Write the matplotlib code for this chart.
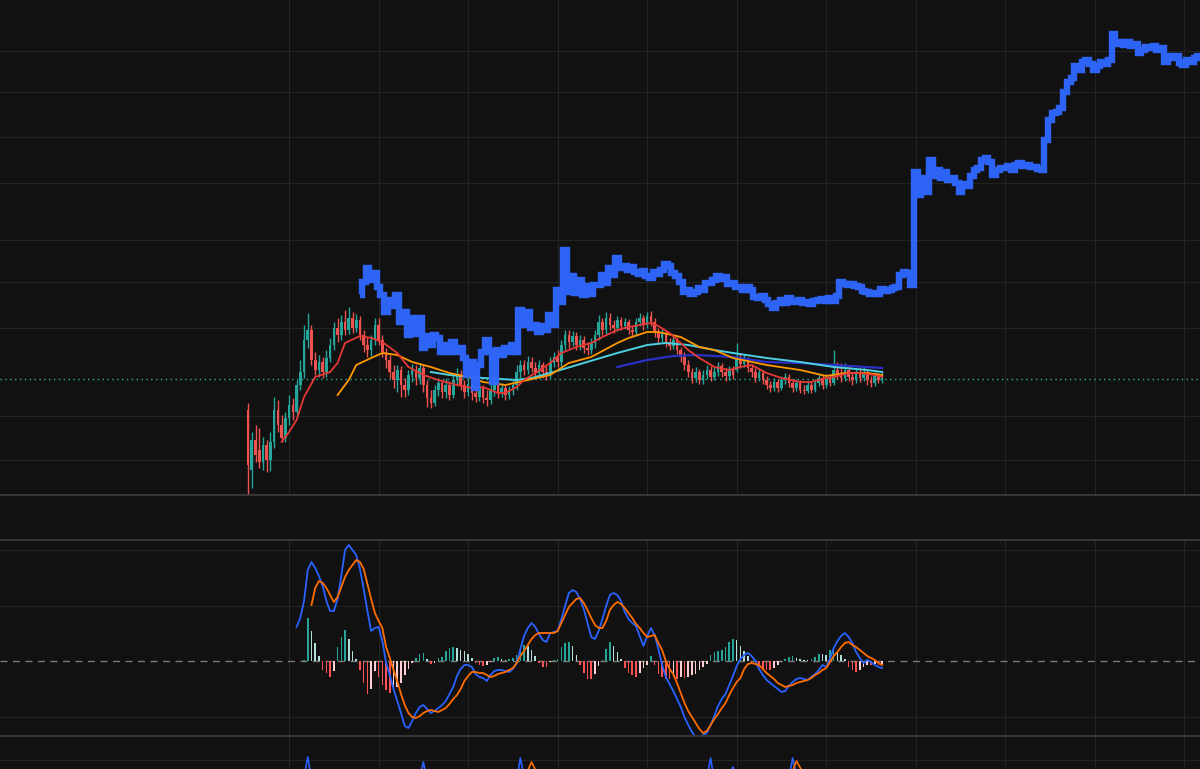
import matplotlib
matplotlib.use("Agg")
import matplotlib.pyplot as plt
from matplotlib.lines import Line2D
import numpy as np

# ---------------- data (bar index = time) ----------------
open_ = [85,25,55,45,33,50,35,53,85,70, 57,77,90,83,110,123,155,165,135,125,
         133,123,137,150,167,160,173,165,177,167, 175,160,150,145,155,170,155,143,135,123,
         115,125,110,105,120,125,117,127,110,97, 92,105,112,103,110,100,115,121,110,103,
         111,102,98,107,97,95,105,112,103,107, 100,105,110,123,130,125,133,127,122,130,
         123,120,132,138,133,150,160,153,159,150, 155,147,145,152,160,173,165,177,170,167,
         175,169,173,165,163,173,177,170,179,173, 163,157,162,153,149,155,145,138,130,123,
         117,123,115,120,125,118,123,129,123,119, 125,125,138,131,135,127,123,117,122,115,
         110,107,113,107,115,118,112,107,112,105, 104,110,105,112,117,110,117,112,125,120,
         117,125,118,115,122,117,123,115,112,119, 115]
close_ = [30,55,40,33,50,35,53,85,70,57, 77,90,83,110,123,155,165,135,125,133,
          123,137,150,167,160,173,165,177,167,175, 160,150,145,155,170,155,143,135,123,115,
          125,110,105,120,125,117,127,110,97,92, 105,112,103,110,100,115,121,110,103,111,
          102,98,107,97,95,105,112,103,107,100, 105,110,123,130,125,133,127,122,130,123,
          120,132,138,133,150,160,153,159,150,155, 147,145,152,160,173,165,177,170,167,175,
          169,173,165,163,173,177,170,179,173,163, 157,162,153,149,155,145,138,130,123,117,
          123,115,120,125,118,123,129,123,119,125, 120,138,131,135,127,123,117,122,115,110,
          107,113,107,115,118,112,107,112,105,104, 110,105,112,117,110,117,112,125,120,117,
          125,118,115,122,117,123,115,112,119,115, 119]
high_ = [92,63,70,67,58,55,63,98,95,80, 83,100,97,115,135,170,182,170,143,140,
         138,145,157,173,177,180,185,188,183,181, 179,165,157,160,177,177,160,147,140,130,
         130,129,117,125,131,130,132,130,115,105, 110,117,115,117,114,120,127,125,115,117,
         115,109,112,110,105,111,117,115,112,111, 109,115,130,135,135,139,138,133,135,133,
         129,138,143,145,155,165,165,164,163,160, 159,153,157,165,180,177,183,182,175,179,
         178,177,176,170,177,182,180,183,184,177, 167,166,165,157,159,158,148,143,135,127,
         128,126,125,130,129,128,133,132,127,129, 129,152,142,140,138,131,127,126,125,119,
         114,117,116,119,122,121,115,116,115,110, 114,113,116,121,120,121,120,145,133,132,
         132,129,123,126,127,128,126,119,123,122, 123]
low_ = [1,7,33,27,25,23,24,47,63,53, 53,70,75,80,105,117,147,130,120,118,
        117,118,133,145,153,155,160,161,162,163, 155,143,138,139,150,150,138,127,117,107,
        103,98,98,100,113,110,111,103,88,87, 89,99,97,97,95,97,110,105,97,99,
        95,93,94,92,89,91,99,97,98,95, 96,100,105,117,120,121,123,118,117,117,
        115,117,128,128,129,145,147,149,145,145, 142,140,141,147,155,160,161,165,162,164,
        165,166,161,158,159,169,165,167,169,158, 152,153,148,145,146,141,133,125,118,112,
        113,111,111,116,114,115,119,118,114,115, 116,123,127,128,123,118,113,114,111,106,
        103,104,103,105,111,108,103,104,102,101, 102,102,103,109,106,107,109,110,116,113,
        114,114,110,112,113,114,110,108,109,112, 112]

blue_t = list(range(30, 257))
blue_v = [200,213,227,215,222,208,200,183,195,189,
          200,173,183,160,177,161,177,147,159,150,
          160,157,143,150,143,153,143,147,137,120,
          133,107,130,143,155,143,113,145,140,147,
          143,150,143,185,170,183,167,170,163,169,
          165,180,170,205,193,245,203,219,202,215,
          200,209,201,210,210,220,212,227,220,237,
          227,229,225,228,223,221,224,219,217,223,
          221,225,231,229,222,219,213,203,205,201,
          203,207,205,212,212,215,219,216,218,211,
          212,208,208,205,208,205,198,197,199,195,
          191,187,192,195,192,197,193,193,195,192,
          193,191,194,195,196,194,197,194,199,213,
          211,210,211,209,208,204,203,201,202,201,
          206,204,205,207,208,220,223,222,210,323,
          300,317,303,335,319,325,317,323,315,317,
          312,303,311,309,319,325,327,335,337,333,
          320,325,327,327,329,325,330,332,329,330,
          328,328,326,325,355,375,382,383,387,403,
          413,417,429,425,433,435,431,425,429,433,
          431,435,461,451,453,450,453,449,451,442,
          445,448,447,449,445,447,433,439,437,439,
          432,430,435,433,437,439,440]

red_t = [9,11,13,15,18,22,24,26,30,33,36,40,43,47,51,56,60,63,67,69,72,74,77,81,84,
         88,92,95,99,102,108,110,113,116,118,121,125,129,132,135,139,143,148,151,155,157,161,164,168,170]
red_v = [53,63,75,98,118,123,132,152,159,157,153,142,128,120,115,110,107,108,102,102,108,115,122,132,142,
         148,152,158,165,168,172,169,162,152,145,137,128,125,128,130,122,117,113,113,117,118,122,122,120,118]
orange_t = [24,27,29,33,36,40,44,49,54,60,63,69,75,81,86,92,99,102,107,110,116,121,125,130,139,148,155,160,166,170]
orange_v = [100,115,130,137,142,140,133,128,122,117,113,110,115,120,132,138,152,157,163,163,158,148,145,137,130,125,119,122,122,120]
cyan_t = [49,54,63,72,76,81,90,99,107,112,118,125,130,139,148,157,166,170]
cyan_v = [123,120,117,115,117,122,132,142,150,152,150,145,142,137,133,128,125,123]
navy_t = [99,107,114,120,130,139,148,157,170]
navy_v = [128,135,139,140,138,133,132,130,127]
ref_level = 116.4

macd_t = list(range(13, 171))
macd_v = [34,43,60,91,99,93,85,75,60,50,
          50,62,85,111,116,111,106,92,72,50,
          30,33,34,20,-2,-14,-28,-40,-52,-65,
          -67,-60,-52,-46,-44,-48,-52,-50,-47,-44,
          -40,-33,-26,-15,-8,-4,-4,-6,-13,-16,
          -17,-20,-14,-10,-9,-9,-10,-11,-8,-2,
          12,25,33,38,34,27,21,19,28,29,
          30,42,55,68,71,69,62,52,38,24,
          22,30,42,55,66,68,66,60,49,42,
          38,35,25,15,25,33,26,12,-4,-16,
          -23,-30,-38,-46,-56,-64,-71,-76,-76,-74,
          -72,-64,-55,-45,-38,-33,-24,-15,-5,2,
          6,8,5,0,-8,-14,-19,-22,-25,-28,
          -31,-30,-25,-21,-18,-17,-18,-19,-16,-13,
          -9,-4,-6,2,13,20,25,28,24,18,
          9,3,-2,1,-1,-4,-6,-7]
signal_t = list(range(17, 171))
signal_v = [56,73,80,78,73,66,59,64,74,84,
            91,96,101,99,92,77,62,48,40,33,
            14,3,-9,-20,-33,-44,-52,-56,-57,-55,
            -52,-50,-49,-50,-51,-49,-47,-43,-38,-34,
            -28,-20,-15,-11,-11,-12,-12,-14,-16,-15,
            -13,-12,-11,-9,-7,-2,5,10,16,22,
            26,28,28,28,28,28,30,38,46,54,
            58,62,63,58,51,43,36,33,33,40,
            51,56,59,57,53,48,43,37,33,28,
            24,25,26,18,11,0,-8,-13,-22,-32,
            -42,-50,-56,-62,-68,-72,-70,-64,-58,-53,
            -47,-42,-34,-27,-21,-17,-8,-3,-2,-3,
            -4,-8,-12,-15,-18,-22,-24,-26,-25,-24,
            -22,-21,-20,-19,-17,-14,-12,-9,-7,-1,
            5,9,14,18,19,16,14,11,8,5,
            3,1,-2,-4]
hist_t = list(range(12, 171))
hist_v = [0.5,0.5,0.5,1,43,30,18,5,-9,-12,
          -16,-10,14,24,31,22,10,2,-9,-22,
          -33,-28,-10,-16,-24,-29,-32,-28,-26,-22,
          -14,-8,-2,3,7,8,2,-3,-2,3,
          4,10,13,14,13,11,10,7,3,-2,
          -4,-5,-4,-1,3,4,2,1,2,3,
          6,14,16,15,11,5,-2,-6,-6,-1,
          1,2,14,18,19,15,6,-4,-12,-18,
          -18,-13,-5,1,12,19,15,9,2,-7,
          -12,-14,-16,-12,-7,-4,5,-4,-13,-16,
          -18,-18,-16,-18,-16,-17,-16,-14,-13,-9,
          -6,-3,6,9,10,11,14,19,22,21,
          15,10,5,-3,-4,-6,-8,-9,-9,-7,
          -4,-1,2,4,5,3,2,1,1,2,
          4,7,7,6,11,14,10,6,2,-6,
          -9,-11,-9,-6,-4,-4,-3,-4,-3]

osc_blue_t = [13,15,16,17,30,46,47,48,60,72,73,74,100,123,124,125,129,130,131,140,145,146,147,160,170]
osc_blue_v = [-20,-8,12,-10,-30,-10,7,-12,-35,-12,11,-8,-40,-10,11,-12,-8,2,-9,-30,-9,11,-6,-25,-20]
osc_orange_t = [17,50,74,76,78,110,145,147,149,170]
osc_orange_v = [-25,-20,-10,7,-8,-30,-12,8,-5,-20]

# ---------------- styling ----------------
BG = "#111111"
GRID = "#232323"
SEP = "#383838"
UP = "#26a69a"
DOWN = "#ef5350"
H = 769.0
XLIM = (-66.5, 255.2)
vgrid = np.arange(11, 256, 24)

fig = plt.figure(figsize=(12, 7.69), dpi=100, facecolor=BG)


def panel(top, bottom, ylim, hgrid, vg=True):
    ax = fig.add_axes([0, 1 - bottom / H, 1, (bottom - top) / H])
    ax.set_facecolor(BG)
    ax.set_xlim(*XLIM)
    ax.set_ylim(*ylim)
    for s in ax.spines.values():
        s.set_visible(False)
    ax.set_xticks(vgrid if vg else [])
    ax.set_yticks(hgrid)
    ax.tick_params(length=0, labelbottom=False, labelleft=False)
    ax.grid(True, color=GRID, lw=0.8)
    ax.set_axisbelow(True)
    return ax


# main price panel
ax = panel(0, 495, (0, 495), [444.3, 402.8, 358, 312, 255, 213, 167, 79, 35])
o = np.array(open_, float); c = np.array(close_, float)
h = np.array(high_, float); l = np.array(low_, float)
t = np.arange(len(o))
cols = np.where(c >= o, UP, DOWN)
ax.vlines(t, l, h, colors=cols, lw=1.0, zorder=2)
ax.bar(t, np.maximum(np.abs(c - o), 0.8), bottom=np.minimum(o, c), width=0.7,
       color=cols, linewidth=0, zorder=2)
ax.axhline(ref_level, color="#2bb3a0", lw=1.0, ls=(0, (1, 2.5)), zorder=1)
ax.plot(navy_t, navy_v, color="#2a30c4", lw=1.6, zorder=3)
ax.plot(cyan_t, cyan_v, color="#4dd0e1", lw=1.4, zorder=3)
ax.plot(orange_t, orange_v, color="#ff9800", lw=1.3, zorder=3)
ax.plot(red_t, red_v, color="#e53935", lw=1.3, zorder=3)
ax.step(blue_t, blue_v, where="mid", color="#2f68ff", lw=4.6,
        solid_joinstyle="miter", solid_capstyle="butt", alpha=0.97, zorder=4)

# MACD panel
am = panel(540, 736, (-75, 121), [111, 55, -56])
am.axhline(0, color="#7a7a7a", lw=1.0, ls=(0, (5, 4)), zorder=1)
hv = np.array(hist_v, float)
prev = np.concatenate([[0.0], hv[:-1]])
hcol = np.where(hv >= 0, np.where(hv > prev, "#26a69a", "#b2dfdb"),
                np.where(hv > prev, "#ffcdd2", "#ff5252"))
am.bar(hist_t, hv, width=0.42, color=hcol, linewidth=0, zorder=2)
am.plot(macd_t, macd_v, color="#2962ff", lw=1.3, zorder=3)
am.plot(signal_t, signal_v, color="#ff6d00", lw=1.3, zorder=3)

# bottom oscillator panel
ab = panel(736, 769, (0, 33), [9.5])
ab.plot(osc_blue_t, osc_blue_v, color="#2962ff", lw=1.2)
ab.plot(osc_orange_t, osc_orange_v, color="#ff6d00", lw=1.2)

# panel separators
for y in (495, 540, 736):
    fig.add_artist(Line2D([0, 1], [1 - y / H, 1 - y / H], transform=fig.transFigure,
                          color=SEP, lw=1.4))

fig.savefig("out.png", dpi=100, facecolor=BG)
